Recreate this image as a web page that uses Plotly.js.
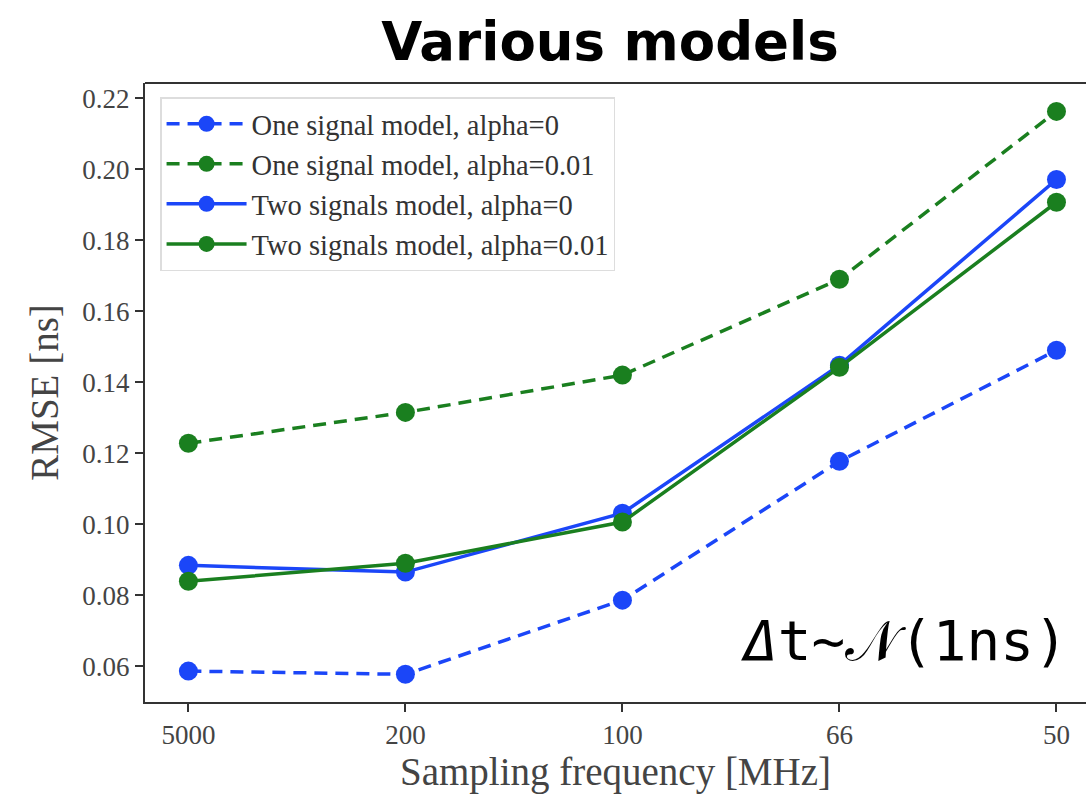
<!DOCTYPE html>
<html>
<head>
<meta charset="utf-8">
<script src="https://cdn.plot.ly/plotly-3.0.1.min.js"></script>
<style>html,body{margin:0;padding:0;background:#fff;}#chart{width:1086px;height:804px;}</style>
</head>
<body>
<div id="chart"></div>
<script>
const categories = ["5000", "200", "100", "66", "50"];
const oneSignalAlpha0 = [0.0586, 0.0577, 0.0786, 0.1177, 0.1490];
const oneSignalAlpha001 = [0.1228, 0.1315, 0.1420, 0.1690, 0.2163];
const twoSignalsAlpha0 = [0.0884, 0.0865, 0.1031, 0.1448, 0.1971];
const twoSignalsAlpha001 = [0.0839, 0.0890, 0.1006, 0.1442, 0.1907];
const seriesNames = ["One signal model, alpha=0", "One signal model, alpha=0.01", "Two signals model, alpha=0", "Two signals model, alpha=0.01"];

const BLUE = "#1b46f8";
const GREEN = "#1a7f1f";
const xIdx = categories.map((_, i) => i);

function trace(name, y, color, dash) {
  return {
    x: xIdx, y: y, name: name, type: "scatter", mode: "lines+markers",
    line: {color: color, width: 3.5, dash: dash},
    marker: {color: color, size: 19}
  };
}

const data = [
  trace(seriesNames[0], oneSignalAlpha0, BLUE, "13px,8px"),
  trace(seriesNames[1], oneSignalAlpha001, GREEN, "13px,8px"),
  trace(seriesNames[2], twoSignalsAlpha0, BLUE, "solid"),
  trace(seriesNames[3], twoSignalsAlpha001, GREEN, "solid")
];

const serif = "Liberation Serif, Times New Roman, serif";
const layout = {
  width: 1086, height: 804,
  margin: {l: 145, r: 0, t: 83, b: 102},
  paper_bgcolor: "#fff", plot_bgcolor: "#fff",
  showlegend: true,
  title: {text: "<b>Various models</b>", x: 610/1086, xanchor: "center", y: 0.948, yanchor: "middle",
          font: {family: "DejaVu Sans, Verdana, sans-serif", size: 53, color: "#000"}},
  xaxis: {
    range: [-0.2, 4.136], tickmode: "array", tickvals: xIdx, ticktext: categories,
    showgrid: false, zeroline: false, showline: true, linecolor: "#333", linewidth: 2,
    ticks: "outside", ticklen: 8, tickwidth: 2, tickcolor: "#333",
    tickfont: {family: serif, size: 27, color: "#444"},
    title: {text: "Sampling frequency [MHz]", font: {family: serif, size: 39, color: "#444"}, standoff: 8}
  },
  yaxis: {
    range: [0.0499, 0.2243], tickmode: "array",
    tickvals: [0.06, 0.08, 0.10, 0.12, 0.14, 0.16, 0.18, 0.20, 0.22],
    ticktext: ["0.06", "0.08", "0.10", "0.12", "0.14", "0.16", "0.18", "0.20", "0.22"],
    showgrid: false, zeroline: false, showline: true, linecolor: "#333", linewidth: 2,
    ticks: "outside", ticklen: 8, tickwidth: 2, tickcolor: "#333",
    tickfont: {family: serif, size: 27, color: "#444"},
    title: {text: "RMSE [ns]", font: {family: serif, size: 39, color: "#444"}, standoff: 12}
  },
  legend: {
    x: 0.016, y: 0.977, xanchor: "left", yanchor: "top",
    bgcolor: "rgba(255,255,255,0.9)", bordercolor: "#ddd", borderwidth: 1.5,
    font: {family: serif, size: 28.5, color: "#333"},
    itemwidth: 80, tracegroupgap: 6
  },
  shapes: [
    {type: "line", xref: "paper", yref: "paper", x0: 0, x1: 1, y0: 1, y1: 1, line: {color: "#333", width: 2}}
  ],
  annotations: [
    {text: "<i>Δ</i>t~𝒩(1ns)", xref: "paper", yref: "paper", x: 0.983, y: 0.1, xanchor: "right", yanchor: "middle",
     showarrow: false, font: {family: "DejaVu Sans Mono, DejaVu Sans, monospace", size: 56, color: "#000"}}
  ]
};

Plotly.newPlot("chart", data, layout, {displayModeBar: false, responsive: false});
</script>
</body>
</html>
